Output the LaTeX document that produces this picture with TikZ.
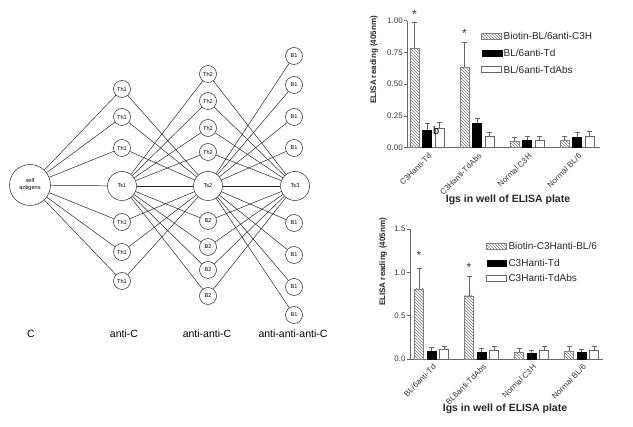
\documentclass[tikz,border=0pt]{standalone}
\usepackage{fontspec}
\setmainfont{Liberation Sans}
\usepackage{tikz}
\usetikzlibrary{patterns}

\begin{document}
\begin{tikzpicture}[
  x=1pt, y=-1pt,
  font=\fontsize{6}{7}\selectfont,
  cell/.style={
    draw=black!85, circle, line width=0.5pt,
    inner sep=0pt, minimum size=17pt,
    font=\fontsize{5.6}{6}\selectfont
  },
  tcell/.style={cell, minimum size=29pt},
  selfcell/.style={cell, minimum size=41pt, align=center, font=\fontsize{5.6}{7}\selectfont},
  link/.style={draw=black!85, line width=0.5pt},
  collabel/.style={font=\fontsize{10.5}{12}\selectfont},
  axisline/.style={draw=black!60, line width=0.6pt},
  errbar/.style={draw=black!60, line width=0.6pt},
  hatchbar/.style={draw=black!50, line width=0.5pt, pattern=north west lines, pattern color=black!55},
  solidbar/.style={draw=black, fill=black},
  openbar/.style={draw=black!60, line width=0.6pt, fill=white},
  ticklabel/.style={font=\fontsize{8}{9}\selectfont, text=black!80, inner sep=1pt},
  keylabel/.style={font=\fontsize{10}{11}\selectfont, text=black!85, anchor=west, inner sep=1pt},
  axistitle/.style={font=\bfseries\fontsize{10.5}{12}\selectfont, text=black!85},
  ytitle/.style={font=\bfseries\fontsize{8}{9}\selectfont, text=black!85, rotate=90},
  star/.style={font=\fontsize{12}{12}\selectfont, text=black!80, inner sep=0pt}
]
\useasboundingbox[fill=white] (0,0) rectangle (633,427);

% idiotypic network
\node[selfcell] (self) at (30,185) {self\\antigens};
\node[tcell] (ts1) at (122,186) {Ts1};
\node[tcell] (ts2) at (208,186) {Ts2};
\node[tcell] (ts3) at (295,186) {Ts3};
\foreach \y [count=\i] in {89,117,148,222,252,281}
  \node[cell] (th1\i) at (122,\y) {Th1};
\foreach \y [count=\i] in {74,101,128,152}
  \node[cell] (th2\i) at (208,\y) {Th2};
\foreach \y [count=\i] in {221,247,270,296}
  \node[cell] (b2\i) at (208,\y) {B2};
\foreach \y [count=\i] in {56,85,117,148,223,255,287,315}
  \node[cell] (b1\i) at (294,\y) {B1};

\draw[link] (self) -- (ts1);
\draw[link] (ts1) -- (ts2);
\draw[link] (ts2) -- (ts3);
\foreach \i in {1,...,6} {
  \draw[link] (self) -- (th1\i);
  \draw[link] (th1\i) -- (ts2);
}
\foreach \i in {1,...,4} {
  \draw[link] (ts1) -- (th2\i);
  \draw[link] (ts1) -- (b2\i);
  \draw[link] (th2\i) -- (ts3);
  \draw[link] (b2\i) -- (ts3);
}
\foreach \i in {1,...,8}
  \draw[link] (ts2) -- (b1\i);

\node[collabel] (lc) at (31,334) {C};
\node[collabel] (lac) at (124,334) {anti-C};
\node[collabel] (laac) at (207,334) {anti-anti-C};
\node[collabel] (laaac) at (293,334) {anti-anti-anti-C};

% upper ELISA chart
\begin{scope}[shift={(0,147.7)}, yscale=-127]
  \draw[axisline] (407.3,1) -- (407.3,0) -- (600,0);
  \foreach \v/\t in {0/0.00,0.25/0.25,0.5/0.50,0.75/0.75,1/1.00} {
    \draw[axisline] (404.3,\v) -- (407.3,\v);
    \node[ticklabel, anchor=east] at (404,\v) {\t};
  }
  \foreach \c/\h/\he/\b/\be/\w/\we in {427/0.78/0.99/0.14/0.19/0.15/0.20,
      477/0.63/0.83/0.19/0.23/0.09/0.12, 527/0.05/0.08/0.06/0.09/0.06/0.09,
      577/0.06/0.09/0.08/0.12/0.09/0.13} {
    \draw[errbar] (\c-12.5,\h) -- (\c-12.5,\he) (\c-15,\he) -- (\c-10,\he);
    \draw[errbar] (\c,\b) -- (\c,\be) (\c-2.5,\be) -- (\c+2.5,\be);
    \draw[errbar] (\c+12.5,\w) -- (\c+12.5,\we) (\c+10,\we) -- (\c+15,\we);
    \draw[hatchbar] (\c-17,0) rectangle (\c-8,\h);
    \draw[solidbar] (\c-4.5,0) rectangle (\c+4.5,\b);
    \draw[openbar] (\c+8,0) rectangle (\c+17,\w);
  }
\end{scope}
\node[star] (s1) at (414.5,14) {*};
\node[star] (s2) at (464.5,33) {*};
\node[font=\fontsize{11}{11}\selectfont, inner sep=0pt] (lb) at (436.3,131) {b};
\foreach \c/\t in {427/{C3Hanti-Td}, 477/{C3Hanti-TdAbs}, 527/{Normal C3H}, 577/{Normal BL/6}}
  \node[ticklabel, rotate=45, anchor=north east] at (\c+1,151) {\t};
\node[axistitle] (xt1) at (508,200) {Igs in well of ELISA plate};
\node[ytitle] (yt1) at (374,60) {ELISA reading (405nm)};
\draw[hatchbar] (481.7,33.3) rectangle (501.7,39.3);
\node[keylabel] (k1) at (502.5,36.3) {Biotin-BL/6anti-C3H};
\draw[solidbar] (481.7,50) rectangle (501.7,56);
\node[keylabel] (k2) at (502.5,53) {BL/6anti-Td};
\draw[openbar] (481.7,66.7) rectangle (501.7,72.7);
\node[keylabel] (k3) at (502.5,69.7) {BL/6anti-TdAbs};

% lower ELISA chart
\begin{scope}[shift={(0,359)}, yscale=-86.5]
  \draw[axisline] (410,1.5) -- (410,0) -- (602.7,0);
  \foreach \v in {0.0,0.5,1.0,1.5} {
    \draw[axisline] (407,\v) -- (410,\v);
    \node[ticklabel, anchor=east] at (406.7,\v) {\v};
  }
  \foreach \c/\h/\he/\b/\be/\w/\we in {431.5/0.81/1.05/0.09/0.13/0.11/0.15,
      481.5/0.73/0.96/0.08/0.12/0.10/0.15, 531.5/0.08/0.12/0.07/0.10/0.10/0.15,
      581.5/0.09/0.15/0.08/0.11/0.10/0.15} {
    \draw[errbar] (\c-12.5,\h) -- (\c-12.5,\he) (\c-15,\he) -- (\c-10,\he);
    \draw[errbar] (\c,\b) -- (\c,\be) (\c-2.5,\be) -- (\c+2.5,\be);
    \draw[errbar] (\c+12.5,\w) -- (\c+12.5,\we) (\c+10,\we) -- (\c+15,\we);
    \draw[hatchbar] (\c-17,0) rectangle (\c-8,\h);
    \draw[solidbar] (\c-4.3,0) rectangle (\c+4.3,\b);
    \draw[openbar] (\c+8,0) rectangle (\c+17,\w);
  }
\end{scope}
\node[star] (s3) at (419,255) {*};
\node[star] (s4) at (469,267) {*};
\foreach \c/\t in {431.5/{BL/6anti-Td}, 481.5/{BL6anti-TdAbs}, 531.5/{Normal C3H}, 581.5/{Normal BL/6}}
  \node[ticklabel, rotate=45, anchor=north east] at (\c+1,362) {\t};
\node[axistitle] (xt2) at (505,409) {Igs in well of ELISA plate};
\node[ytitle] (yt2) at (383,262) {ELISA reading (405nm)};
\draw[hatchbar] (486.7,243.3) rectangle (506,249.3);
\node[keylabel] (k4) at (507.3,246.3) {Biotin-C3Hanti-BL/6};
\draw[solidbar] (486.7,260) rectangle (506,266);
\node[keylabel] (k5) at (507.3,263) {C3Hanti-Td};
\draw[openbar] (486.7,275) rectangle (506,281);
\node[keylabel] (k6) at (507.3,278) {C3Hanti-TdAbs};
\end{tikzpicture}
\end{document}
